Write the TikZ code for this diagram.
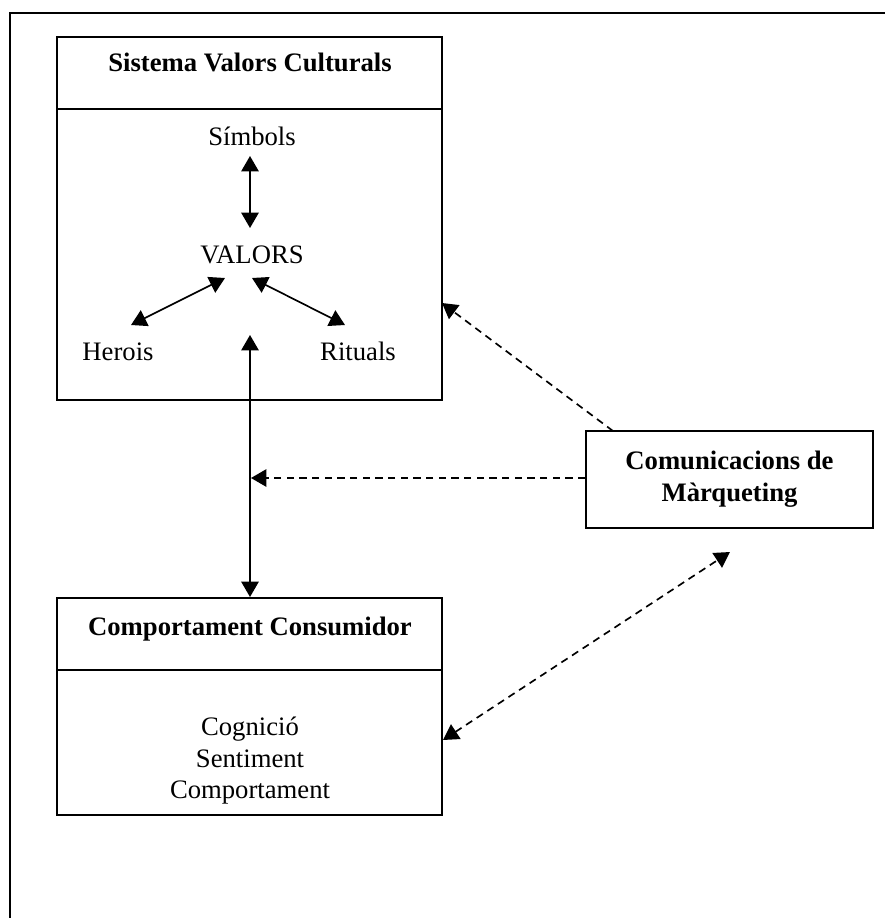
\documentclass[tikz,border=0pt]{standalone}
\usepackage{fontspec}
\setmainfont{Liberation Serif}
\usetikzlibrary{arrows.meta}
\begin{document}
\begin{tikzpicture}[x=0.75pt,y=-0.75pt,
  outerframe/.style={line width=1.8pt},
  panel/.style={draw,line width=1.25pt,inner sep=0pt,minimum width=288.75pt},
  divider/.style={line width=1.25pt},
  lbl/.style={font=\fontsize{20pt}{24pt}\selectfont,inner sep=0pt,anchor=base},
  ttl/.style={lbl,font=\fontsize{20pt}{24pt}\selectfont\bfseries},
  tip/.tip={Triangle[width=13pt,length=11.5pt]},
  link/.style={line width=1.25pt,tip-tip},
  dash link/.style={line width=1.25pt,dash pattern=on 5.5pt off 4pt}
]
% page area and the outer frame that runs past its right and lower edges
\useasboundingbox (0,0) rectangle (885,918);
\clip (0,0) rectangle (885,918);
\draw[outerframe] (10,13) rectangle (910,950);

% panels
\node[panel,minimum height=272.25pt] (svc) at (249.5,218.5) {};
\draw[divider] (svc.west |- 0,109) -- (svc.east |- 0,109);
\node[panel,minimum height=162.75pt] (cc) at (249.5,706.5) {};
\draw[divider] (cc.west |- 0,670) -- (cc.east |- 0,670);
\node[draw,line width=1.25pt,minimum width=215.25pt,minimum height=72.75pt,
      font=\fontsize{20pt}{24pt}\selectfont\bfseries,align=center,inner sep=0pt]
      (mkt) at (729.5,479.5) {Comunicacions de\\Màrqueting};

% panel titles
\node[ttl] (svcT) at (250,71) {Sistema Valors Culturals};
\node[ttl] (ccT) at (250,635) {Comportament Consumidor};

% cultural value system
\node[lbl] (sim) at (252,145) {Símbols};
\node[lbl] (val) at (252,263) {VALORS};
\node[lbl] (her) at (118,360) {Herois};
\node[lbl] (rit) at (358,360) {Rituals};

% consumer behaviour
\node[lbl] (cog) at (250,735) {Cognició};
\node[lbl] (sen) at (250,767) {Sentiment};
\node[lbl] (com) at (250,798) {Comportament};

% arrow end points
\coordinate (simB) at (250,156);
\coordinate (valT) at (250,228);
\coordinate (valL) at (225,278);
\coordinate (valR) at (252,278);
\coordinate (herT) at (131,325);
\coordinate (ritT) at (345,325);
\coordinate (valB) at (250,335);
\coordinate (ccTop) at (250,597);
\coordinate (svcR) at (442,303);
\coordinate (mktTop) at (613,431);
\coordinate (axis) at (251,478);
\coordinate (ccR) at (443,740);
\coordinate (mktB) at (730,552);

% connectors
\draw[link] (simB) -- (valT);
\draw[link] (valL) -- (herT);
\draw[link] (valR) -- (ritT);
\draw[link] (valB) -- (ccTop);
\draw[dash link,-tip] (mktTop) -- (svcR);
\draw[dash link,-tip] (mkt.west |- axis) -- (axis);
\draw[dash link,tip-tip] (ccR) -- (mktB);
\end{tikzpicture}
\end{document}
